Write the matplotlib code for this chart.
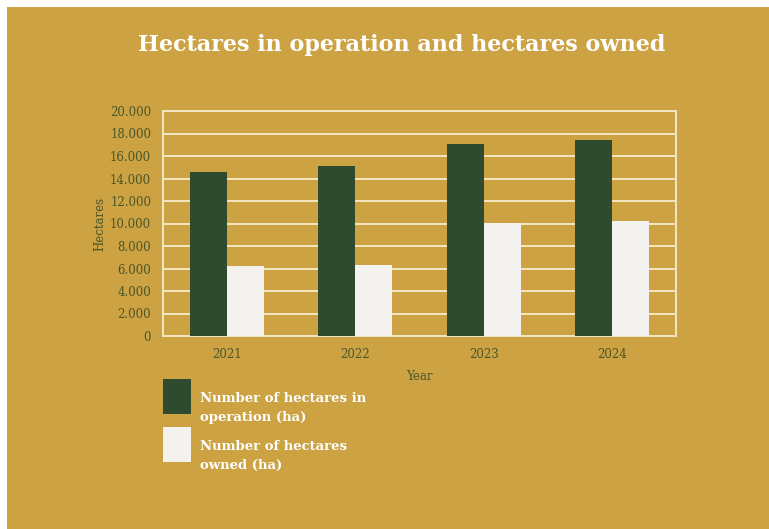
import numpy as np
import matplotlib.pyplot as plt
from matplotlib.patches import Rectangle
from matplotlib.ticker import FuncFormatter

years = ['2021', '2022', '2023', '2024']
in_operation = [14550, 15100, 17050, 17400]
owned = [6250, 6350, 10080, 10200]
series_labels = ['Number of hectares in\noperation (ha)', 'Number of hectares\nowned (ha)']

GOLD = '#cda243'
GREEN = '#2e4b2f'
WHITE = '#f3f2ee'
GRID = '#f3e7c3'
TEXT = '#4b5629'

plt.rcParams['font.family'] = ['DejaVu Serif']

W, H = 769, 529
fig = plt.figure(figsize=(W / 100, H / 100), dpi=100)
fig.patch.set_facecolor('white')
# gold panel, leaving a thin white margin on top and left
fig.patches.append(Rectangle((7 / W, 0), 1, 1 - 7 / H, transform=fig.transFigure,
                             facecolor=GOLD, edgecolor='none', zorder=-10))

ax = fig.add_axes([163 / W, 1 - 336 / H, 513 / W, 225 / H])
ax.set_facecolor(GOLD)

x = np.arange(len(years))
w = 0.288
ax.bar(x - w / 2, in_operation, w, color=GREEN, zorder=3)
ax.bar(x + w / 2, owned, w, color=WHITE, zorder=3)

ax.set_xlim(-0.5, 3.5)
ax.set_ylim(0, 20000)
ax.set_yticks(np.arange(0, 20001, 2000))
ax.yaxis.set_major_formatter(FuncFormatter(lambda v, p: f'{int(v):,}'.replace(',', '.')))
ax.set_xticks(x)
ax.set_xticklabels(years)
ax.grid(axis='y', color=GRID, linewidth=1.4, zorder=1)
for s in ax.spines.values():
    s.set_color(GRID)
    s.set_linewidth(1.4)
ax.tick_params(length=0, colors=TEXT, labelsize=8.5)
ax.tick_params(axis='x', pad=8.5)
ax.tick_params(axis='y', pad=8.5)

ax.set_xlabel('Year', color=TEXT, fontsize=8.5, labelpad=6.5)
ax.set_ylabel('Hectares', color=TEXT, fontsize=8.5, labelpad=2.5)

fig.text(402 / W, 1 - 45 / H, 'Hectares in operation and hectares owned',
         ha='center', va='center', color='white', fontsize=16, fontweight='bold')

# legend: colour swatches with two-line labels
for i, (col, lab) in enumerate(zip([GREEN, WHITE], series_labels)):
    top = 379 + i * 48
    fig.patches.append(Rectangle((163 / W, 1 - (top + 35) / H), 28 / W, 35 / H,
                                 transform=fig.transFigure, facecolor=col,
                                 edgecolor='none'))
    fig.text(200 / W, 1 - (top + 29) / H, lab, ha='left', va='center', color='white',
             fontsize=9.5, fontweight='bold', linespacing=1.6)

fig.savefig('out.png', dpi=100, facecolor=fig.get_facecolor())
